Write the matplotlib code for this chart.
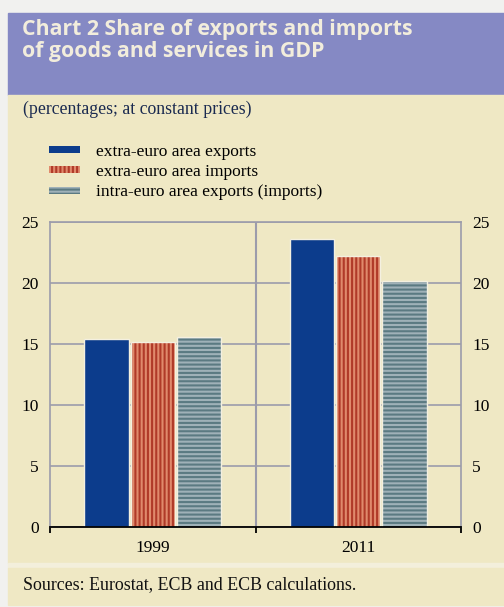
import numpy as np
import matplotlib
matplotlib.use('Agg')
import matplotlib.pyplot as plt
from matplotlib.patches import Rectangle

plt.rcParams['hatch.linewidth'] = 1.5

years = ['1999', '2011']
extra_exports = [15.4, 23.6]
extra_imports = [15.2, 22.2]
intra_exports = [15.6, 20.2]
labels = ['extra-euro area exports', 'extra-euro area imports',
          'intra-euro area exports (imports)']
yticks = [0, 5, 10, 15, 20, 25]

W, H = 504, 607
fig = plt.figure(figsize=(W / 100, H / 100), dpi=100, facecolor='#f1f1ef')

def box(x0, y0, x1, y1, color):
    # pixel coords, y measured from top
    fig.patches.append(Rectangle((x0 / W, 1 - y1 / H), (x1 - x0) / W, (y1 - y0) / H,
                                 transform=fig.transFigure, color=color, zorder=-5))

box(8, 13, 504, 95, '#8589c4')
box(8, 95, 504, 563, '#efe8c4')
box(8, 563, 504, 568, '#f3efdc')
box(8, 568, 504, 605, '#efe8c4')

title_font = dict(family='Open Sans', weight='bold', size=15.3, color='#f2eddc')
fig.text(22 / W, 1 - 30 / H, 'Chart 2 Share of exports and imports', va='center', **title_font)
fig.text(22 / W, 1 - 51 / H, 'of goods and services in GDP', va='center', **title_font)

serif = 'Liberation Serif'
fig.text(23 / W, 1 - 109 / H, '(percentages; at constant prices)', va='center',
         family=serif, size=12.8, color='#1a2a50')
fig.text(23 / W, 1 - 585 / H, 'Sources: Eurostat, ECB and ECB calculations.', va='center',
         family=serif, size=12.9, color='#111111')

ax = fig.add_axes([50 / W, (H - 527) / H, 411 / W, 305 / H])
ax.set_facecolor('none')
ax.set_zorder(2)

x = np.arange(len(years))
w = 0.215
step = 0.225
series = [
    (extra_exports, '#0c3c8c', '#0c3c8c', None),
    (extra_imports, '#e08a6c', '#b03a28', '||||'),
    (intra_exports, '#9fb1b8', '#5b7a82', '----'),
]
for i, (vals, face, hcol, hatch) in enumerate(series):
    pos = x + (i - 1) * step
    ax.bar(pos, vals, w, color=face, edgecolor=hcol, hatch=hatch, linewidth=0,
           label=labels[i], zorder=3)
    ax.bar(pos, vals, w, fill=False, edgecolor='#f4f0e0', linewidth=1.0, zorder=4)

ax.set_xlim(-0.5, 1.5)
ax.set_ylim(0, 25)
ax.set_yticks(yticks)
ax.yaxis.grid(True, color='#9c9cab', linewidth=1.2, zorder=1)
ax.set_axisbelow(True)
ax.axvline(0.5, color='#9c9cab', linewidth=1.5, zorder=1)

for s in ['left', 'right', 'top']:
    ax.spines[s].set_color('#9c9cab')
    ax.spines[s].set_linewidth(1.2)
ax.spines['bottom'].set_color('black')
ax.spines['bottom'].set_linewidth(1.3)
ax.spines['bottom'].set_zorder(5)

ax.set_xticks(x)
ax.set_xticklabels(years, family=serif, size=12.5)
ax.set_xticks([-0.5, 0.5, 1.5], minor=True)
ax.tick_params(axis='x', which='major', length=0, pad=9)
ax.tick_params(axis='x', which='minor', length=4, width=1.3, direction='out', color='black')
ax.tick_params(axis='y', length=0, labelright=True, labelleft=True, pad=8)
for t in ax.get_yticklabels():
    t.set_family(serif)
    t.set_fontsize(12.5)

leg = ax.legend(loc='upper left', bbox_to_anchor=(49 / W, 1 - 144 / H),
                bbox_transform=fig.transFigure, frameon=False,
                prop={'family': serif, 'size': 12.5}, handlelength=1.8,
                handleheight=0.25, labelspacing=0.24, handletextpad=0.9,
                borderpad=0, borderaxespad=0)

fig.savefig('out.png', dpi=100, facecolor=fig.get_facecolor())
